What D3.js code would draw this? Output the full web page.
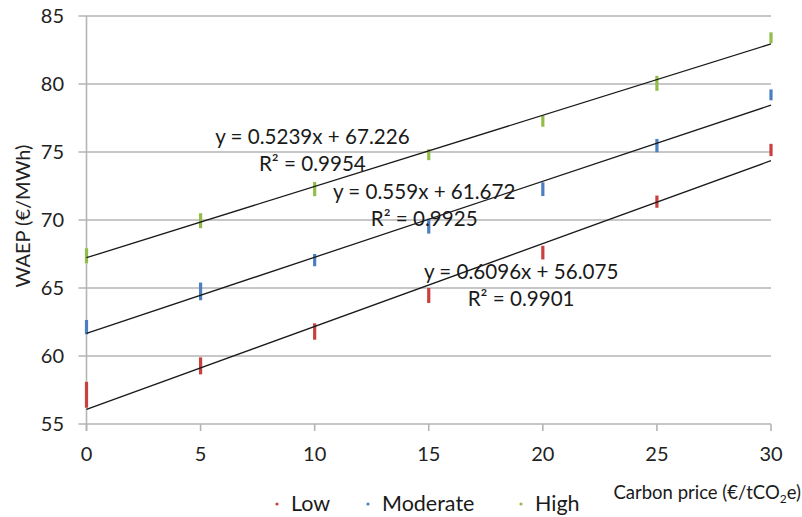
<!DOCTYPE html>
<html><head><meta charset="utf-8">
<script src="https://cdn.jsdelivr.net/npm/d3@7"></script>
<style>body{margin:0;background:#fff}svg{display:block}</style>
</head><body><svg id="c" width="802" height="517"></svg>
<script>
const carbonPrices = [0, 5, 10, 15, 20, 25, 30];
const yTicks = [55, 60, 65, 70, 75, 80, 85];
const seriesNames = ["Low", "Moderate", "High"];
const seriesColors = ["#c9403f", "#4a7fc1", "#92bd48"];
// marker extents (min / max)
const lowMin = [56.2, 58.65, 61.2, 63.9, 67.1, 70.9, 74.7];
const lowMax = [58.1, 59.9, 62.4, 65.0, 68.1, 71.8, 75.6];
const moderateMin = [61.6, 64.1, 66.6, 69.0, 71.76, 74.98, 78.8];
const moderateMax = [62.65, 65.4, 67.5, 70.1, 72.77, 75.96, 79.6];
const highMin = [66.82, 69.4, 71.75, 74.4, 76.86, 79.5, 83.0];
const highMax = [67.92, 70.5, 72.8, 75.2, 77.7, 80.6, 83.8];
const trendSlopes = [0.6096, 0.559, 0.5239];
const trendIntercepts = [56.075, 61.672, 67.226];
const trendR2 = ["0.9901", "0.9925", "0.9954"];
// equation label anchor (data coordinates)
const labelX = [19.05, 14.8, 9.9];
const labelY = [66.18, 72.06, 76.1];

const series = seriesNames.map((n, i) => ({
  name: n, color: seriesColors[i],
  lo: [lowMin, moderateMin, highMin][i],
  hi: [lowMax, moderateMax, highMax][i],
  slope: trendSlopes[i], intercept: trendIntercepts[i], r2: trendR2[i],
  lx: labelX[i], ly: labelY[i]
}));

const svg = d3.select("#c");
const m = {l: 86.5, r: 771, t: 16, b: 424};
const FONT = "Lato, 'Open Sans', sans-serif";
const x = d3.scaleLinear().domain([0, 30]).range([m.l, m.r]);
const y = d3.scaleLinear().domain([55, 85]).range([m.b, m.t]);
const grid = "#b4b4b4";

// horizontal gridlines
svg.append("g").selectAll("line").data(yTicks).join("line")
  .attr("x1", m.l - 8).attr("x2", m.r)
  .attr("y1", d => y(d)).attr("y2", d => y(d))
  .attr("stroke", grid).attr("stroke-width", 1.6);
// y axis line
svg.append("line").attr("x1", m.l).attr("x2", m.l).attr("y1", m.t).attr("y2", m.b + 7)
  .attr("stroke", grid).attr("stroke-width", 1.6);
// x ticks
svg.append("g").selectAll("line").data(carbonPrices).join("line")
  .attr("x1", d => x(d)).attr("x2", d => x(d)).attr("y1", m.b).attr("y2", m.b + 7)
  .attr("stroke", grid).attr("stroke-width", 1.6);

// tick labels
svg.append("g").selectAll("text").data(yTicks).join("text")
  .attr("x", 64).attr("y", d => y(d)).attr("dy", "0.36em")
  .attr("text-anchor", "end").attr("font-family", FONT).attr("font-size", 20)
  .attr("fill", "#222").text(d => d);
svg.append("g").selectAll("text").data(carbonPrices).join("text")
  .attr("x", d => x(d)).attr("y", 461)
  .attr("text-anchor", "middle").attr("font-family", FONT).attr("font-size", 20)
  .attr("fill", "#222").text(d => d);

// y title
svg.append("text").attr("transform", "translate(30,216) rotate(-90)")
  .attr("text-anchor", "middle").attr("font-family", FONT).attr("font-size", 20)
  .attr("fill", "#222").text("WAEP (€/MWh)");

// markers
series.forEach(s => {
  svg.append("g").selectAll("rect").data(carbonPrices).join("rect")
    .attr("x", d => x(d) - 1.6).attr("width", 3.2)
    .attr("y", (d, i) => y(s.hi[i])).attr("height", (d, i) => y(s.lo[i]) - y(s.hi[i]))
    .attr("fill", s.color);
});
// trendlines
const line = d3.line().x(d => x(d[0])).y(d => y(d[1]));
series.forEach(s => {
  svg.append("path").datum([0, 30].map(c => [c, s.intercept + s.slope * c]))
    .attr("d", line).attr("fill", "none").attr("stroke", "#1a1a1a").attr("stroke-width", 1.3);
});
// equation labels
series.forEach(s => {
  const t = svg.append("text").attr("font-family", FONT).attr("font-size", 20.6)
    .attr("fill", "#1a1a1a").attr("text-anchor", "middle");
  t.append("tspan").attr("x", x(s.lx)).attr("y", y(s.ly)).attr("dy", "0.36em")
    .text(`y = ${s.slope}x + ${s.intercept.toFixed(3)}`);
  t.append("tspan").attr("x", x(s.lx)).attr("y", y(s.ly) + 26.5).attr("dy", "0.36em")
    .text(`R² = ${s.r2}`);
});

// legend
const legX = [277, 368, 521];
series.forEach((s, i) => {
  svg.append("circle").attr("cx", legX[i]).attr("cy", 504).attr("r", 1.6).attr("fill", s.color);
  svg.append("text").attr("x", legX[i] + 14).attr("y", 511)
    .attr("font-family", FONT).attr("font-size", 21.5).attr("fill", "#1a1a1a").text(s.name);
});
const ct = svg.append("text").attr("x", 801).attr("y", 499).attr("text-anchor", "end")
  .attr("font-family", FONT).attr("font-size", 18.5).attr("fill", "#1a1a1a");
ct.append("tspan").text("Carbon price (€/tCO");
ct.append("tspan").attr("font-size", 12).attr("dy", 4).text("2");
ct.append("tspan").attr("dy", -4).text("e)");
</script></body></html>
